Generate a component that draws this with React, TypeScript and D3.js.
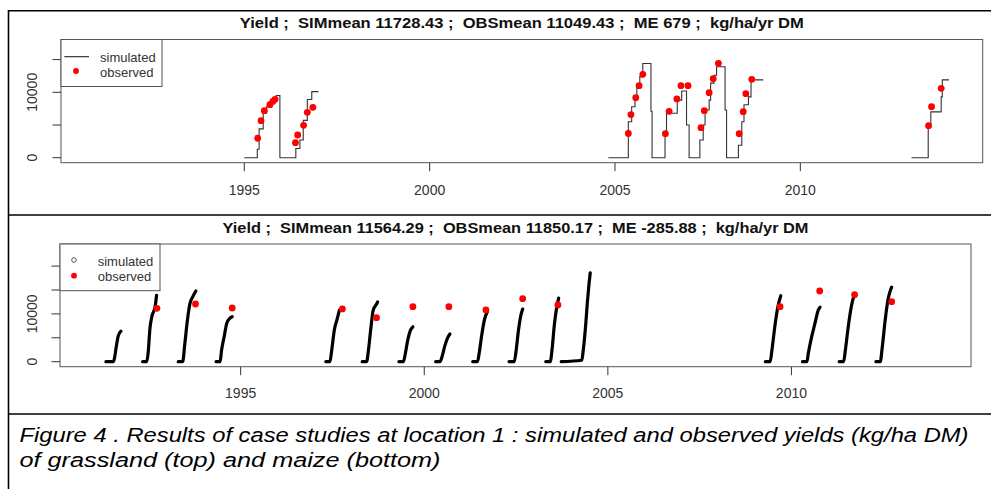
import React from 'react';
import * as d3 from 'd3';

type Pt = [number, number];

// grassland (top): simulated cumulative yield, step line, one array per run of years
const grassSim: Pt[][] = [
  [[1995.0, 0], [1995.35, 1300], [1995.4, 4400], [1995.51, 6800], [1995.6, 7800], [1995.74, 8700], [1995.86, 9500],
   [1995.96, 0], [1996.39, 1400], [1996.5, 2700], [1996.59, 5700], [1996.7, 8900], [1996.82, 10100], [1997.0, 10100]],
  [[2004.82, 0], [2005.36, 5500], [2005.45, 7800], [2005.54, 8800], [2005.59, 10900], [2005.67, 12400], [2005.75, 14400],
   [2005.97, 7100], [2006.0, 0], [2006.35, 3700], [2006.39, 6800], [2006.68, 8800], [2006.8, 10200], [2006.93, 5000],
   [2007.0, 0], [2007.29, 2700], [2007.38, 5000], [2007.43, 7300], [2007.54, 8800], [2007.58, 11400], [2007.67, 12600],
   [2007.74, 13900], [2007.97, 7300], [2008.01, 0], [2008.33, 1900], [2008.42, 5500], [2008.48, 8100], [2008.6, 9300],
   [2008.67, 11900], [2009.0, 11900]],
  [[2013.0, 0], [2013.45, 4700], [2013.52, 7000], [2013.8, 9300], [2013.83, 11900], [2014.01, 11900]],
];

const grassObs: Pt[] = [
  [1995.36, 2970], [1995.45, 5660], [1995.54, 7190], [1995.69, 8100], [1995.77, 8600], [1995.83, 8930],
  [1996.38, 2290], [1996.44, 3470], [1996.6, 4950], [1996.7, 6940], [1996.85, 7700],
  [2005.36, 3700], [2005.43, 6600], [2005.56, 9170], [2005.65, 11010], [2005.75, 12750],
  [2006.36, 3670], [2006.46, 7090], [2006.67, 8980], [2006.78, 11010], [2006.97, 11010],
  [2007.32, 4590], [2007.41, 7190], [2007.54, 9940], [2007.65, 12080], [2007.79, 14430],
  [2008.35, 3670], [2008.46, 7030], [2008.53, 9790], [2008.69, 11990],
  [2013.46, 4900], [2013.54, 7800], [2013.8, 10610],
];

// maize (bottom): simulated daily yield, one array per season
const maizeSim: Pt[][] = [
  [[1991.33, 0], [1991.53, 0], [1991.56, 600], [1991.61, 3000], [1991.66, 5200], [1991.7, 6000], [1991.74, 6400]],
  [[1992.33, 0], [1992.44, 0], [1992.48, 1800], [1992.53, 7000], [1992.58, 9400], [1992.67, 11500], [1992.71, 13900]],
  [[1993.3, 0], [1993.42, 0], [1993.48, 3800], [1993.55, 8700], [1993.62, 12200], [1993.69, 13500], [1993.78, 14800]],
  [[1994.33, 0], [1994.44, 0], [1994.48, 2400], [1994.55, 5200], [1994.62, 8000], [1994.71, 9100], [1994.77, 9400]],
  [[1997.32, 0], [1997.43, 0], [1997.48, 2400], [1997.55, 6600], [1997.62, 8700], [1997.69, 10800]],
  [[1998.31, 0], [1998.43, 0], [1998.48, 2400], [1998.54, 6600], [1998.61, 10800], [1998.69, 11900], [1998.73, 12500]],
  [[1999.31, 0], [1999.43, 0], [1999.48, 1500], [1999.55, 4500], [1999.62, 6500], [1999.69, 7300]],
  [[2000.31, 0], [2000.43, 0], [2000.49, 1200], [2000.56, 3300], [2000.63, 4900], [2000.7, 5800]],
  [[2001.32, 0], [2001.45, 0], [2001.5, 2000], [2001.57, 5800], [2001.64, 8800], [2001.72, 10500]],
  [[2002.31, 0], [2002.45, 0], [2002.5, 2200], [2002.56, 6200], [2002.62, 9300], [2002.68, 11000]],
  [[2003.31, 0], [2003.43, 0], [2003.48, 2500], [2003.54, 7500], [2003.6, 11000], [2003.66, 13300]],
  [[2003.73, 0], [2004.29, 300], [2004.33, 2400], [2004.4, 8000], [2004.44, 12200], [2004.48, 15700], [2004.52, 18600]],
  [[2009.29, 0], [2009.42, 0], [2009.47, 2500], [2009.55, 7500], [2009.63, 11500], [2009.71, 13800]],
  [[2010.3, 0], [2010.42, 0], [2010.46, 1800], [2010.55, 5200], [2010.64, 8000], [2010.73, 10800], [2010.78, 11400]],
  [[2011.3, 0], [2011.42, 0], [2011.47, 2500], [2011.55, 7500], [2011.63, 11500], [2011.68, 13200], [2011.72, 13950]],
  [[2012.3, 0], [2012.42, 0], [2012.47, 2800], [2012.55, 8500], [2012.63, 13000], [2012.69, 14800], [2012.73, 15600]],
];

const maizeObs: Pt[] = [
  [1992.72, 11170], [1993.77, 12070], [1994.77, 11230], [1997.77, 11030], [1998.7, 9200], [1999.69, 11510],
  [2000.67, 11510], [2001.68, 10820], [2002.68, 13180], [2003.64, 11860], [2009.69, 11510], [2010.77, 14790],
  [2011.72, 14020], [2012.73, 12550],
];

const xTicks = [1995, 2000, 2005, 2010];
const grassYTicks = [0, 5000, 10000, 15000];
const maizeYTicks = [0, 5000, 10000, 15000, 20000];
const yLabelTicks = [0, 10000];
const legendLabels = ['simulated', 'observed'];
const grassTitle = 'Yield ;  SIMmean 11728.43 ;  OBSmean 11049.43 ;  ME 679 ;  kg/ha/yr DM';
const maizeTitle = 'Yield ;  SIMmean 11564.29 ;  OBSmean 11850.17 ;  ME -285.88 ;  kg/ha/yr DM';
const caption = [
  'Figure 4 . Results of case studies at location 1 : simulated and observed yields (kg/ha DM)',
  'of grassland (top) and maize (bottom)',
];

const FONT = '"Liberation Sans", Arial, sans-serif';

interface PanelProps {
  left: number; right: number; top: number; bottom: number;
  xDomain: [number, number]; yDomain: [number, number];
  yTicks: number[];
  title: string; titleY: number; titleLen: number;
  xLabelY: number;
  kind: 'grass' | 'maize';
}

const Panel: React.FC<PanelProps> = (p) => {
  const x = d3.scaleLinear().domain(p.xDomain).range([p.left, p.right]);
  const y = d3.scaleLinear().domain(p.yDomain).range([p.bottom, p.top]);
  const cx = (p.left + p.right) / 2;

  const step = d3.line<Pt>().x(d => x(d[0])).y(d => y(d[1])).curve(d3.curveStepAfter);
  const smooth = d3.line<Pt>().x(d => x(d[0])).y(d => y(d[1])).curve(d3.curveMonotoneX);

  const sim = p.kind === 'grass' ? grassSim : maizeSim;
  const obs = p.kind === 'grass' ? grassObs : maizeObs;

  const lx = p.left;
  const ly = p.top;
  const legW = p.kind === 'grass' ? 101 : 100;
  const legH = p.kind === 'grass' ? 47 : 46.7;

  return (
    <g fontFamily={FONT}>
      <text x={cx} y={p.titleY} textAnchor="middle" fontWeight="bold" fontSize={14.5}
        textLength={p.titleLen} lengthAdjust="spacingAndGlyphs" fill="#111" style={{ whiteSpace: 'pre' }}>
        {p.title}
      </text>

      {/* data */}
      {p.kind === 'grass'
        ? sim.map((s, i) => (
          <path key={i} d={step(s) || ''} fill="none" stroke="#333" strokeWidth={1.1} />
        ))
        : sim.map((s, i) => (
          <path key={i} d={smooth(s) || ''} fill="none" stroke="#000" strokeWidth={3.2}
            strokeLinecap="round" strokeLinejoin="round" />
        ))}
      {obs.map((d, i) => (
        <circle key={i} cx={x(d[0])} cy={y(d[1])} r={3.4} fill="#ff0000" />
      ))}

      {/* box */}
      <rect x={p.left} y={p.top} width={p.right - p.left} height={p.bottom - p.top}
        fill="none" stroke="#555" strokeWidth={1} />

      {/* y axis */}
      {p.yTicks.map(t => (
        <line key={t} x1={p.left - 8.5} x2={p.left} y1={y(t)} y2={y(t)} stroke="#333" strokeWidth={1} />
      ))}
      {yLabelTicks.map(t => (
        <text key={t} transform={`translate(${36.5},${y(t)}) rotate(-90)`} textAnchor="middle"
          fontSize={14} fill="#333">{t}</text>
      ))}

      {/* x axis */}
      {xTicks.map(t => (
        <g key={t}>
          <line x1={x(t)} x2={x(t)} y1={p.bottom} y2={p.bottom + 8.5} stroke="#333" strokeWidth={1} />
          <text x={x(t)} y={p.xLabelY} textAnchor="middle" fontSize={14} fill="#333">{t}</text>
        </g>
      ))}

      {/* legend */}
      <rect x={lx} y={ly} width={legW} height={legH} fill="#fff" stroke="#555" strokeWidth={1} />
      {p.kind === 'grass' ? (
        <>
          <line x1={lx + 3.3} x2={lx + 28} y1={ly + 17.2} y2={ly + 17.2} stroke="#222" strokeWidth={1.1} />
          <circle cx={lx + 15} cy={ly + 31.5} r={2.9} fill="#ff0000" />
          <text x={lx + 39} y={ly + 22} fontSize={13} fill="#333">{legendLabels[0]}</text>
          <text x={lx + 39} y={ly + 37} fontSize={13} fill="#333">{legendLabels[1]}</text>
        </>
      ) : (
        <>
          <circle cx={lx + 14} cy={ly + 16} r={2.3} fill="none" stroke="#444" strokeWidth={0.9} />
          <circle cx={lx + 14} cy={ly + 31.7} r={2.9} fill="#ff0000" />
          <text x={lx + 37.7} y={ly + 21.5} fontSize={13} fill="#333">{legendLabels[0]}</text>
          <text x={lx + 37.7} y={ly + 37} fontSize={13} fill="#333">{legendLabels[1]}</text>
        </>
      )}
    </g>
  );
};

export default function App() {
  return (
    <div style={{ position: 'absolute', left: 0, top: 0, width: 991, height: 489, background: '#fff' }}>
      <svg width={991} height={489} viewBox="0 0 991 489" style={{ display: 'block' }}>
        <rect x={0} y={0} width={991} height={489} fill="#fff" />

        <Panel left={61} right={982.7} top={39.5} bottom={162.7}
          xDomain={[1990.055, 2014.92]} yDomain={[-765, 18073]}
          yTicks={grassYTicks} title={grassTitle} titleY={28} titleLen={564} xLabelY={195} kind="grass" />

        <Panel left={60} right={971} top={244} bottom={366.7}
          xDomain={[1990.08, 2014.89]} yDomain={[-1046, 24620]}
          yTicks={maizeYTicks} title={maizeTitle} titleY={233} titleLen={586} xLabelY={398} kind="maize" />

        {/* frame */}
        <line x1={8.5} x2={8.5} y1={10} y2={489} stroke="#000" strokeWidth={1.6} />
        <line x1={8} x2={991} y1={10.7} y2={10.7} stroke="#000" strokeWidth={1.4} />
        <line x1={8} x2={991} y1={215} y2={215} stroke="#000" strokeWidth={1.4} />
        <line x1={8} x2={991} y1={414} y2={414} stroke="#000" strokeWidth={1.4} />

        <g fontFamily={FONT} fontStyle="italic" fontSize={20.5} fill="#000">
          <text x={19.5} y={442} textLength={949} lengthAdjust="spacingAndGlyphs">{caption[0]}</text>
          <text x={19.5} y={467} textLength={421} lengthAdjust="spacingAndGlyphs">{caption[1]}</text>
        </g>
      </svg>
    </div>
  );
}
